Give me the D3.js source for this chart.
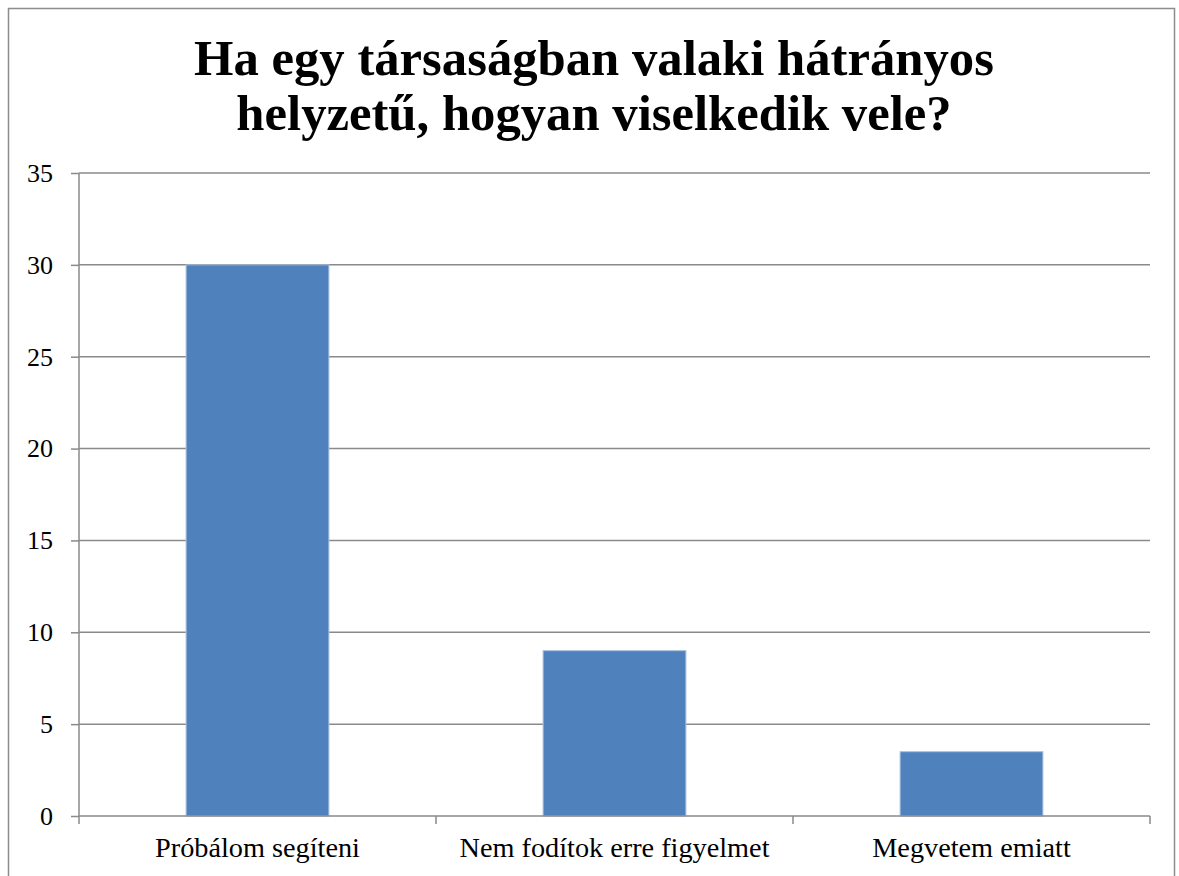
<!DOCTYPE html>
<html>
<head>
<meta charset="utf-8">
<script src="https://cdn.jsdelivr.net/npm/d3@7"></script>
<style>
  html, body { margin: 0; padding: 0; background: #fff; }
  svg { display: block; }
</style>
</head>
<body>
<svg id="chart" width="1179" height="876"></svg>
<script>
const titleLines = ["Ha egy társaságban valaki hátrányos", "helyzetű, hogyan viselkedik vele?"];
const categories = ["Próbálom segíteni", "Nem fodítok erre figyelmet", "Megvetem emiatt"];
const values = [30, 9, 3.5];
const yTicks = [0, 5, 10, 15, 20, 25, 30, 35];

const svg = d3.select("#chart");
const m = { left: 79, right: 1150, top: 173, bottom: 816 };
const serif = "'Liberation Serif', 'DejaVu Serif', serif";
const axisColor = "#8a8a8a";

// outer border
svg.append("rect")
  .attr("x", 8.5).attr("y", 8.5)
  .attr("width", 1166).attr("height", 900)
  .attr("fill", "#fff").attr("stroke", "#8c8c8c").attr("stroke-width", 1.5);

// title
const title = svg.append("text")
  .attr("text-anchor", "middle")
  .attr("font-family", serif)
  .attr("font-weight", "bold")
  .attr("font-size", 46)
  .attr("fill", "#000");
const tspans = titleLines.map((t, i) =>
  title.append("tspan").attr("x", 594).attr("y", 75 + i * 55).text(t));
// fit font size so first line is ~800px wide like the reference
const w0 = tspans[0].node().getComputedTextLength();
title.attr("font-size", 46 * 800 / w0);

const x = d3.scaleBand().domain(categories).range([m.left, m.right])
  .paddingInner(0.6).paddingOuter(0.3);
const y = d3.scaleLinear().domain([0, 35]).range([m.bottom, m.top]);

// gridlines
svg.append("g").selectAll("line").data(yTicks.filter(d => d > 0)).join("line")
  .attr("x1", m.left).attr("x2", m.right)
  .attr("y1", d => y(d)).attr("y2", d => y(d))
  .attr("stroke", axisColor).attr("stroke-width", 1.5);

// bars
svg.append("g").selectAll("rect").data(values).join("rect")
  .attr("x", (d, i) => x(categories[i]))
  .attr("width", x.bandwidth())
  .attr("y", d => y(d))
  .attr("height", d => y(0) - y(d))
  .attr("fill", "#4F81BD")
  .attr("stroke", "#a9c1de").attr("stroke-width", 1);

// y axis
const yAxis = d3.axisLeft(y).tickValues(yTicks).tickSize(8).tickPadding(18).tickFormat(d3.format("d"));
const gy = svg.append("g").attr("transform", `translate(${m.left},0)`).call(yAxis);
gy.select(".domain").attr("stroke", axisColor).attr("stroke-width", 1.5).attr("d", `M0,${m.top}V${m.bottom}`);
gy.selectAll(".tick line").attr("stroke", axisColor).attr("stroke-width", 1.5);
gy.selectAll(".tick text").attr("font-family", serif).attr("font-size", 26).attr("fill", "#000");

// x axis
const gx = svg.append("g").attr("transform", `translate(0,${m.bottom})`);
gx.append("line").attr("x1", m.left).attr("x2", m.right).attr("y1", 0).attr("y2", 0)
  .attr("stroke", axisColor).attr("stroke-width", 1.5);
const boundaries = d3.range(categories.length + 1).map(i => m.left + i * x.step());
gx.selectAll("line.tk").data(boundaries).join("line").attr("class", "tk")
  .attr("x1", d => d).attr("x2", d => d)
  .attr("y1", 0).attr("y2", 8)
  .attr("stroke", axisColor).attr("stroke-width", 1.5);
const labels = gx.selectAll("text").data(categories).join("text")
  .attr("x", d => x(d) + x.bandwidth() / 2)
  .attr("y", 41)
  .attr("text-anchor", "middle")
  .attr("font-family", serif).attr("font-size", 22).attr("fill", "#000")
  .text(d => d);
const lw = labels.nodes()[0].getComputedTextLength();
labels.attr("font-size", 22 * 205 / lw);
</script>
</body>
</html>
